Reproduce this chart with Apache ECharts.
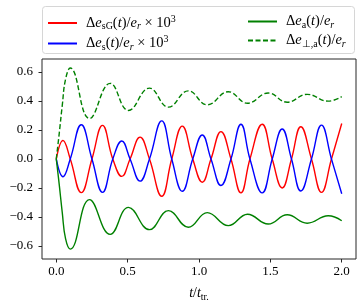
<!DOCTYPE html>
<html>
<head>
<meta charset="utf-8">
<script src="https://cdn.jsdelivr.net/npm/echarts@6/dist/echarts.min.js"></script>
<style>html,body{margin:0;padding:0;background:#fff}#c{width:363px;height:307px}</style>
</head>
<body>
<div id="c"></div>
<script>
// ---- data ----
var tOsc = [0, 0.047, 0.098, 0.175, 0.25, 0.324, 0.396, 0.459, 0.517, 0.587, 0.653, 0.739, 0.809, 0.883, 0.956, 1.023, 1.084, 1.154, 1.224, 1.294, 1.357, 1.443, 1.513, 1.583, 1.648, 1.713, 1.788, 1.858, 1.928, 2.0];
var deSG = [0, 0.128, 0, -0.232, 0, 0.232, 0, -0.12, 0, 0.151, 0, -0.257, 0, 0.227, 0, -0.16, 0, 0.189, 0, -0.234, 0, 0.24, 0, -0.2, 0, 0.223, 0, -0.23, 0, 0.245];
var deS  = [0, -0.122, 0, 0.236, 0, -0.23, 0, 0.124, 0, -0.153, 0, 0.263, 0, -0.223, 0, 0.166, 0, -0.183, 0, 0.24, 0, -0.234, 0, 0.207, 0, -0.221, 0, 0.234, 0, -0.24];
var tGreen = [0, 0.02, 0.042, 0.065, 0.098, 0.233, 0.378, 0.506, 0.653, 0.786, 0.925, 1.058, 1.205, 1.34, 1.485, 1.618, 1.758, 1.905, 2.0];
var dePerpA = [0, 0.17, 0.37, 0.55, 0.628, 0.279, 0.522, 0.335, 0.489, 0.358, 0.47, 0.374, 0.464, 0.385, 0.455, 0.392, 0.446, 0.399, 0.43];
var deA     = [0, -0.17, -0.37, -0.55, -0.622, -0.28, -0.52, -0.334, -0.487, -0.356, -0.471, -0.37, -0.46, -0.381, -0.449, -0.385, -0.443, -0.392, -0.426];
var xTicks = [0, 0.5, 1.0, 1.5, 2.0];
var yTicks = [-0.6, -0.4, -0.2, 0.0, 0.2, 0.4, 0.6];

function pairs(t, v) { return t.map(function (x, i) { return [x, v[i]]; }); }

var serif = 'Liberation Serif';
var FS = 14.5, SS = 10;
var legendRich = {
  n: { fontFamily: serif, fontSize: FS, color: '#000' },
  i: { fontFamily: serif, fontSize: FS, fontStyle: 'italic', color: '#000' },
  s: { fontFamily: serif, fontSize: SS, color: '#000', padding: [7, 0, 0, 0] },
  si: { fontFamily: serif, fontSize: SS, fontStyle: 'italic', color: '#000', padding: [7, 0, 0, 0] },
  p: { fontFamily: serif, fontSize: SS, color: '#000', padding: [0, 0, 8, 0] },
  g: { fontFamily: serif, fontSize: FS, color: '#000', padding: [0, 0, 0, 4] }
};
var legendText = {
  sG: '{g|Δ}{i|e}{s|sG}{n|(}{i|t}{n|)/}{i|e}{si|r}{n| × 10}{p|3}',
  s: '{g|Δ}{i|e}{s|s}{n|(}{i|t}{n|)/}{i|e}{si|r}{n| × 10}{p|3}',
  a: '{g|Δ}{i|e}{s|a}{n|(}{i|t}{n|)/}{i|e}{si|r}',
  perpA: '{g|Δ}{i|e}{s|⊥,a}{n|(}{i|t}{n|)/}{i|e}{si|r}'
};
function fmtMinus(v) {
  var s = Math.abs(v) < 1e-9 ? '0.0' : v.toFixed(1);
  return s.replace('-', '−');
}

var chart = echarts.init(document.getElementById('c'), null, { renderer: 'canvas' });
var legendCommon = {
  orient: 'vertical', itemWidth: 29, itemHeight: 12, itemGap: 3,
  itemStyle: { opacity: 0 },
  formatter: function (n) { return legendText[n]; },
  textStyle: { rich: legendRich }
};
chart.setOption({
  animation: false,
  backgroundColor: '#fff',
  grid: { left: 42, right: 7, top: 59, bottom: 44, show: true, borderColor: '#262626', borderWidth: 1, containLabel: false },
  graphic: [{
    type: 'rect', shape: { x: 42.5, y: 6.5, width: 312, height: 47, r: 3 },
    style: { fill: '#fff', stroke: '#d6d6d6', lineWidth: 1 }, z: -1
  }],
  legend: [
    Object.assign({ left: 42, top: 9, data: ['sG', 's'] }, legendCommon),
    Object.assign({ left: 242, top: 9, data: ['a', 'perpA'] }, legendCommon)
  ],
  xAxis: {
    type: 'value', min: -0.1, max: 2.1,
    name: '{i|t}{n|/}{i|t}{s|tr.}', nameLocation: 'middle', nameGap: 26,
    nameTextStyle: { rich: {
      i: { fontFamily: serif, fontSize: 14, fontStyle: 'italic', color: '#000' },
      n: { fontFamily: serif, fontSize: 14, color: '#000' },
      s: { fontFamily: serif, fontSize: 10, color: '#000', padding: [7, 0, 0, 0] }
    } },
    axisLine: { show: false, onZero: false },
    splitLine: { show: false },
    axisTick: { show: true, length: 3.5, customValues: xTicks, lineStyle: { color: '#262626' } },
    axisLabel: { customValues: xTicks, margin: 6, fontFamily: serif, fontSize: 13, color: '#000', formatter: fmtMinus }
  },
  yAxis: {
    type: 'value', min: -0.69, max: 0.69,
    axisLine: { show: false, onZero: false },
    splitLine: { show: false },
    axisTick: { show: true, length: 3.5, customValues: yTicks, lineStyle: { color: '#262626' } },
    axisLabel: { customValues: yTicks, margin: 9, fontFamily: serif, fontSize: 13, color: '#000', formatter: fmtMinus }
  },
  series: [
    { name: 'sG', type: 'line', data: pairs(tOsc, deSG), smooth: 0.45, symbol: 'none', lineStyle: { color: '#ff0000', width: 1.4 }, itemStyle: { color: '#ff0000' } },
    { name: 's', type: 'line', data: pairs(tOsc, deS), smooth: 0.45, symbol: 'none', lineStyle: { color: '#0000ff', width: 1.4 }, itemStyle: { color: '#0000ff' } },
    { name: 'a', type: 'line', data: pairs(tGreen, deA), smooth: 0.45, symbol: 'none', lineStyle: { color: '#008000', width: 1.4 }, itemStyle: { color: '#008000' } },
    { name: 'perpA', type: 'line', data: pairs(tGreen, dePerpA), smooth: 0.45, symbol: 'none', lineStyle: { color: '#008000', width: 1.4, type: [5, 2.5] }, itemStyle: { color: '#008000' } }
  ]
});
</script>
</body>
</html>
